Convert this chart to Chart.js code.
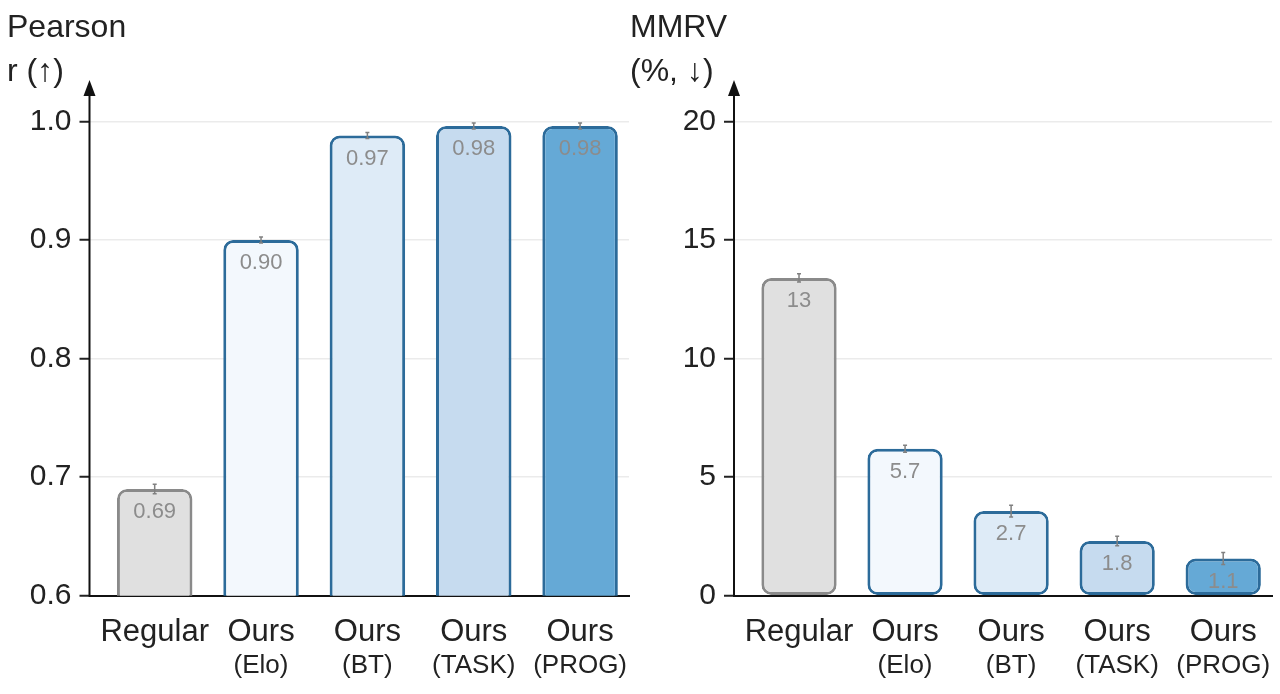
<!DOCTYPE html>
<html><head><meta charset="utf-8">
<script src="https://cdn.jsdelivr.net/npm/chart.js@4.4.1/dist/chart.umd.min.js"></script>
<style>
html,body{margin:0;padding:0;background:#fff;width:1280px;height:694px;overflow:hidden}
.box{position:absolute;top:0;height:694px}
</style></head><body>
<div class="box" style="left:0;width:640px"><canvas id="c1"></canvas></div>
<div class="box" style="left:620px;width:660px"><canvas id="c2"></canvas></div>
<script>
// ---- data ----
const methods = ['Regular', 'Ours', 'Ours', 'Ours', 'Ours'];
const variants = ['', '(Elo)', '(BT)', '(TASK)', '(PROG)'];

const pearsonValues = [0.69, 0.90, 0.988, 0.996, 0.996];
const pearsonErrors = [0.004, 0.0025, 0.0025, 0.0025, 0.0025];
const pearsonLabels = ['0.69', '0.90', '0.97', '0.98', '0.98'];
const pearsonTicks = [0.6, 0.7, 0.8, 0.9, 1.0];

const mmrvValues = [13.4, 6.2, 3.57, 2.31, 1.57];
const mmrvErrors = [0.17, 0.15, 0.25, 0.2, 0.25];
const mmrvLabels = ['13', '5.7', '2.7', '1.8', '1.1'];
const mmrvTicks = [0, 5, 10, 15, 20];

// ---- styles ----
const FONT = "'Liberation Sans', Arial, Helvetica, sans-serif";
const fills = ['#e0e0e0', '#f3f8fd', '#deebf7', '#c6dbef', '#65a9d6'];
const borders = ['#8a8a8a', '#2c6b9a', '#2c6b9a', '#2c6b9a', '#2c6b9a'];

function makeChart(id, cfg) {
  const overlay = {
    id: 'overlay',
    afterDatasetsDraw(chart) {
      const ctx = chart.ctx, xs = chart.scales.x, ys = chart.scales.y;
      ctx.save();
      // error bars
      ctx.strokeStyle = '#808080'; ctx.lineWidth = 1.5;
      cfg.values.forEach((v, i) => {
        const x = xs.getPixelForValue(i);
        const y1 = ys.getPixelForValue(v + cfg.errors[i]);
        const y2 = ys.getPixelForValue(v - cfg.errors[i]);
        ctx.beginPath();
        ctx.moveTo(x, y1); ctx.lineTo(x, y2);
        ctx.moveTo(x - 2, y1); ctx.lineTo(x + 2, y1);
        ctx.moveTo(x - 2, y2); ctx.lineTo(x + 2, y2);
        ctx.stroke();
      });
      // value labels
      ctx.fillStyle = '#8c8c8c';
      ctx.font = '22px ' + FONT;
      ctx.textAlign = 'center'; ctx.textBaseline = 'middle';
      cfg.values.forEach((v, i) => {
        ctx.fillText(cfg.labels[i], xs.getPixelForValue(i), ys.getPixelForValue(v) + 23);
      });
      ctx.restore();
    },
    afterDraw(chart) {
      const ctx = chart.ctx, a = chart.chartArea, xs = chart.scales.x;
      ctx.save();
      // y axis line with arrow
      ctx.strokeStyle = '#111'; ctx.lineWidth = 2;
      ctx.beginPath(); ctx.moveTo(a.left, a.bottom + 1); ctx.lineTo(a.left, 94); ctx.stroke();
      ctx.fillStyle = '#111';
      ctx.beginPath(); ctx.moveTo(a.left, 80); ctx.lineTo(a.left - 6, 96); ctx.lineTo(a.left + 6, 96); ctx.closePath(); ctx.fill();
      // second line of category labels
      ctx.fillStyle = '#222';
      ctx.font = '26px ' + FONT;
      ctx.textAlign = 'center'; ctx.textBaseline = 'middle';
      variants.forEach((t, i) => { if (t) ctx.fillText(t, xs.getPixelForValue(i), 666); });
      // axis title
      ctx.textAlign = 'left'; ctx.textBaseline = 'alphabetic';
      ctx.font = '32px ' + FONT;
      ctx.fillText(cfg.title[0], cfg.titleX, 37);
      ctx.fillText(cfg.title[1], cfg.titleX, 81);
      ctx.restore();
    }
  };
  return new Chart(document.getElementById(id), {
    type: 'bar',
    data: {
      datasets: [{
        data: cfg.values.map((v, i) => ({ x: i, y: v })),
        backgroundColor: fills,
        borderColor: borders,
        borderWidth: 3,
        borderRadius: 10,
        borderSkipped: false,
        categoryPercentage: 1,
        barPercentage: 0.71
      }]
    },
    options: {
      responsive: true,
      maintainAspectRatio: false,
      animation: false,
      layout: { padding: { left: 0, right: cfg.padRight, top: 121.3, bottom: 0 } },
      plugins: { legend: { display: false }, tooltip: { enabled: false } },
      scales: {
        x: {
          type: 'linear', min: -0.613, max: 4.46, offset: false,
          afterBuildTicks: s => { s.ticks = methods.map((_, i) => ({ value: i })); },
          afterFit: s => { s.height = 98.2; },
          grid: { display: false, drawTicks: false, offset: false },
          border: { display: true, color: '#111', width: 2 },
          ticks: {
            callback: v => methods[v],
            font: { family: FONT, size: 31 },
            color: '#222', padding: 18, maxRotation: 0, autoSkip: false
          }
        },
        y: {
          min: cfg.ticks[0], max: cfg.ticks[cfg.ticks.length - 1],
          afterBuildTicks: s => { s.ticks = cfg.ticks.map(v => ({ value: v })); },
          afterFit: s => { s.width = cfg.axisX; },
          grid: { color: '#ebebeb', lineWidth: 1.5, tickColor: '#222', tickLength: 10, tickWidth: 2 },
          border: { display: false },
          ticks: {
            callback: cfg.fmt,
            font: { family: FONT, size: 30 },
            color: '#222', padding: 8
          }
        }
      }
    },
    plugins: [overlay]
  });
}

makeChart('c1', {
  values: pearsonValues, errors: pearsonErrors, labels: pearsonLabels, ticks: pearsonTicks,
  fmt: v => v.toFixed(1), axisX: 89.5, padRight: 11,
  title: ['Pearson', 'r (\u2191)'], titleX: 7
});
makeChart('c2', {
  values: mmrvValues, errors: mmrvErrors, labels: mmrvLabels, ticks: mmrvTicks,
  fmt: v => String(v), axisX: 114, padRight: 8,
  title: ['MMRV', '(%, \u2193)'], titleX: 10
});
</script>
</body></html>
